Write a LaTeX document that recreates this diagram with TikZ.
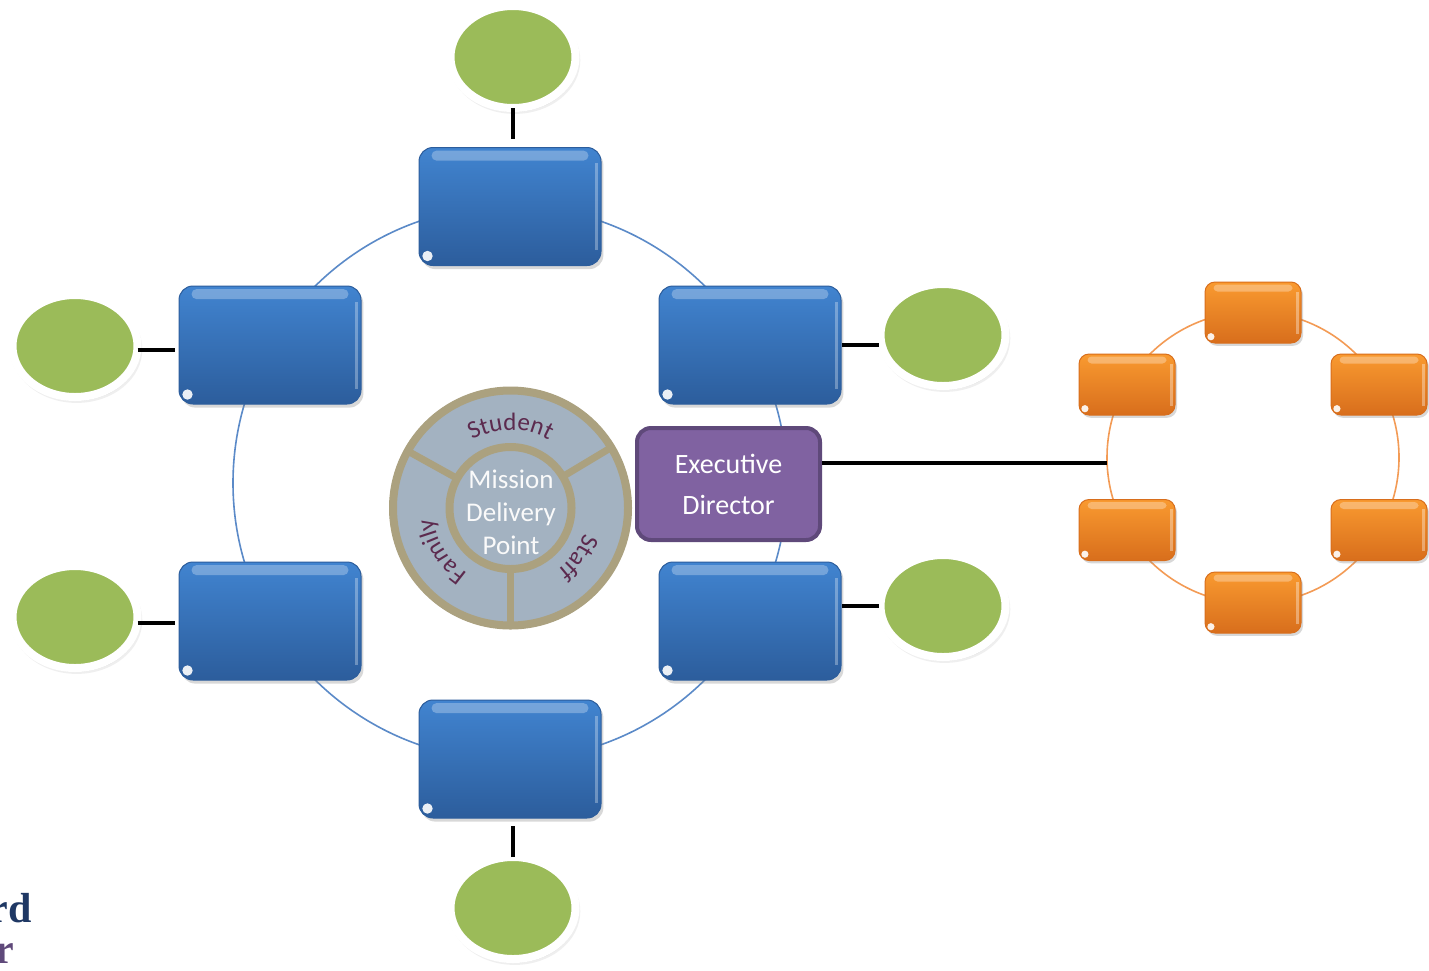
\documentclass[tikz,border=0pt]{standalone}
\usepackage{fontspec}
\setmainfont{Carlito}
\newfontfamily\serifbold{Liberation Serif}
\usetikzlibrary{shapes.geometric,shadows,decorations.text}
\definecolor{blueTop}{HTML}{4184D0}
\definecolor{blueBot}{HTML}{2C5D9C}
\definecolor{blueLine}{HTML}{5B8AC8}
\definecolor{greenFill}{HTML}{9BBB59}
\definecolor{orTop}{HTML}{F99A30}
\definecolor{orBot}{HTML}{D86E1C}
\definecolor{orLine}{HTML}{F39B55}
\definecolor{purFill}{HTML}{8062A1}
\definecolor{purLine}{HTML}{5F497A}
\definecolor{ringFill}{HTML}{A3B2C1}
\definecolor{ringLine}{HTML}{ABA17F}
\definecolor{plum}{HTML}{5C2A4E}
\definecolor{navy}{HTML}{1F3864}
\newcommand{\bluegloss}[1]{%
  \fill[white, opacity=0.28, rounded corners=2.5pt] ([shift={(6.5pt,-1.8pt)}]#1.north west) rectangle ([shift={(-6.5pt,-6.8pt)}]#1.north east);
  \fill[white, opacity=0.3] ([shift={(-3.2pt,-8pt)}]#1.north east) rectangle ([shift={(-1.8pt,8pt)}]#1.south east);
  \fill[white, opacity=0.9] ([shift={(4.5pt,5pt)}]#1.south west) circle[radius=2.6pt];}
\newcommand{\orgloss}[1]{%
  \fill[white, opacity=0.3, rounded corners=2pt] ([shift={(4.5pt,-1.5pt)}]#1.north west) rectangle ([shift={(-4.5pt,-5pt)}]#1.north east);
  \fill[white, opacity=0.35] ([shift={(-2.6pt,-5pt)}]#1.north east) rectangle ([shift={(-1.4pt,5pt)}]#1.south east);
  \fill[white, opacity=0.9] ([shift={(3.2pt,3.4pt)}]#1.south west) circle[radius=1.8pt];}
\begin{document}
\begin{tikzpicture}[x=0.5pt,y=-0.5pt,
  bluebox/.style={rectangle, rounded corners=7pt, minimum width=91pt, minimum height=59pt, inner sep=0pt,
    top color=blueTop, bottom color=blueBot, draw=blueBot, line width=0.5pt,
    drop shadow={shadow xshift=1.2pt, shadow yshift=-1.8pt, opacity=0.3}},
  orbox/.style={rectangle, rounded corners=5pt, minimum width=48pt, minimum height=30.5pt, inner sep=0pt,
    top color=orTop, bottom color=orBot, draw=orBot, line width=0.5pt,
    drop shadow={shadow xshift=1pt, shadow yshift=-1.4pt, opacity=0.3}},
  greenell/.style={ellipse, fill=greenFill, draw=white, line width=4pt, minimum width=62.5pt, minimum height=51pt,
    inner sep=0pt,
    drop shadow={shadow xshift=0pt, shadow yshift=-0.4pt, shadow scale=1.05, opacity=0.10},
    drop shadow={shadow xshift=0.8pt, shadow yshift=-1.6pt, shadow scale=1.05, opacity=0.12},
    drop shadow={shadow xshift=0.6pt, shadow yshift=-1.2pt, shadow scale=1.025, opacity=0.18}},
  conn/.style={line width=2pt, black},
  blueline/.style={draw=blueLine, line width=0.8pt},
  orline/.style={draw=orLine, line width=0.8pt},
  edbox/.style={rectangle, rounded corners=7pt, fill=purFill, draw=purLine, line width=2pt, minimum width=91.5pt,
    minimum height=56pt, inner sep=0pt, align=center, text=white, font=\fontsize{14}{20.5}\selectfont},
  ringtext/.style={decorate, decoration={text along path, text align=center, text color=plum}}
]
\useasboundingbox (0,0) rectangle (1429,970);
\fill[white] (0,0) rectangle (1429,970);

% rings behind the boxes
\draw[blueline] (510,483) circle[radius=277];
\draw[orline] (1253,457.5) circle[radius=146];

% blue boxes
\node[bluebox] (bT)  at (510,206.5) {};
\node[bluebox] (bUL) at (270,345) {};
\node[bluebox] (bUR) at (750,345) {};
\node[bluebox] (bLL) at (270,621) {};
\node[bluebox] (bLR) at (750,621) {};
\node[bluebox] (bB)  at (510,759) {};
\foreach \n in {bT,bUL,bUR,bLL,bLR,bB}{\bluegloss{\n}}

% green ellipses
\node[greenell] (gT)  at (513,57) {};
\node[greenell] (gB)  at (513,908) {};
\node[greenell] (gUL) at (75,346) {};
\node[greenell] (gLL) at (75,617) {};
\node[greenell] (gUR) at (943,335) {};
\node[greenell] (gLR) at (943,606) {};

% connectors ellipse -- box
\draw[conn, shorten <=-2pt, shorten >=3.8pt] (gT.south) -- (gT.south |- bT.north);
\draw[conn, shorten <=-2pt, shorten >=3.8pt] (gB.north) -- (gB.north |- bB.south);
\draw[conn, shorten <=-2pt, shorten >=2pt] ([yshift=-2pt]gUL.east) -- ([yshift=-2pt]gUL.east -| bUL.west);
\draw[conn, shorten <=-2pt, shorten >=2pt] ([yshift=-3pt]gLL.east) -- ([yshift=-3pt]gLL.east -| bLL.west);
\draw[conn, shorten <=-1pt, shorten >=0pt] ([yshift=-5pt]gUR.west) -- ([yshift=-5pt]gUR.west -| bUR.east);
\draw[conn, shorten <=-1pt, shorten >=0pt] (gLR.west) -- (gLR.west -| bLR.east);

% central ring
\begin{scope}[shift={(510.5,508)}, y=0.5pt]
  \fill[ringFill] (0,0) circle[radius=121];
  \draw[ringLine, line width=4pt] (0,0) circle[radius=117.5];
  \draw[ringLine, line width=3.5pt] (151:61) -- (151:117);
  \draw[ringLine, line width=3.5pt] (31:61) -- (31:117);
  \draw[ringLine, line width=3.5pt] (270:61) -- (270:117);
  \draw[ringLine, line width=4pt] (0,0) circle[radius=61];
  \path[ringtext, decoration={text={|\fontsize{12.5}{14}\selectfont|Student}}]
    (150:78) arc[start angle=150, end angle=30, radius=78];
  \path[ringtext, decoration={text={|\fontsize{12.5}{14}\selectfont|Staff}}]
    (20:78) arc[start angle=20, end angle=-92, radius=78];
  \path[ringtext, decoration={text={|\fontsize{12.5}{14}\selectfont|Family}}]
    (268:78) arc[start angle=268, end angle=156, radius=78];
\end{scope}
\node[align=center, text=white!96!gray, font=\fontsize{13.5}{16.5}\selectfont] (mdp) at (511,512)
  {Mission\\Delivery\\Point};

% executive director
\node[edbox] (ed) at (728.5,484) {Executive\\Director};

% orange boxes
\node[orbox] (oT)  at (1253,312.5) {};
\node[orbox] (oUL) at (1127,384.5) {};
\node[orbox] (oUR) at (1379,384.5) {};
\node[orbox] (oLL) at (1127,530) {};
\node[orbox] (oLR) at (1379,530) {};
\node[orbox] (oB)  at (1253,602.5) {};
\foreach \n in {oT,oUL,oUR,oLL,oLR,oB}{\orgloss{\n}}

% connector to orange ring
\coordinate (ocw) at (1107,462.5);
\draw[conn] (ocw -| ed.east) -- (ocw);

% cut-off text at bottom left
\node[anchor=base east, inner sep=0pt, text=navy, font=\serifbold\bfseries\fontsize{21}{21}\selectfont] (t1) at (32,922) {rd};
\node[anchor=base east, inner sep=0pt, text=purLine, font=\serifbold\bfseries\fontsize{21}{21}\selectfont] (t2) at (15,963) {r};
\end{tikzpicture}
\end{document}
